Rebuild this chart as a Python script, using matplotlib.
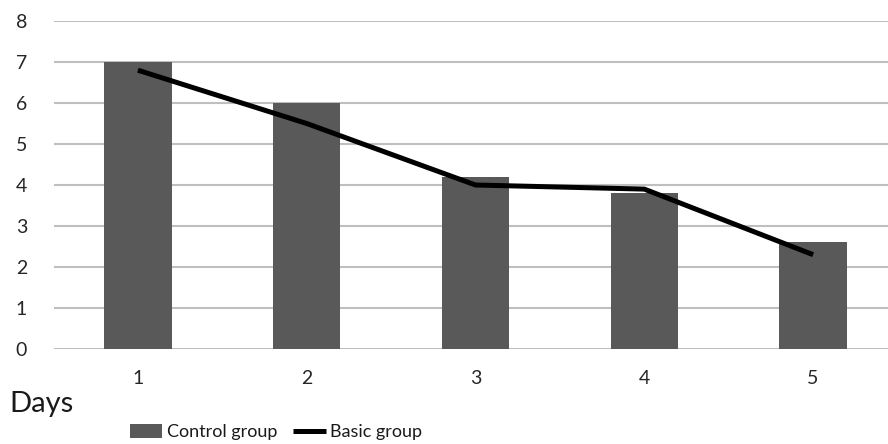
import matplotlib.pyplot as plt
import numpy as np

days = [1, 2, 3, 4, 5]
control_group = [7.0, 6.0, 4.2, 3.8, 2.6]
basic_group = [6.8, 5.5, 4.0, 3.9, 2.3]
y_ticks = [0, 1, 2, 3, 4, 5, 6, 7, 8]

plt.rcParams["font.family"] = ["Lato", "DejaVu Sans"]

fig = plt.figure(figsize=(8.88, 4.44), dpi=100)
ax = fig.add_axes([53.5 / 888, 1 - 349 / 444, (897.5 - 53.5) / 888, (349 - 21) / 444])

x = np.arange(len(days))
bars = ax.bar(x, control_group, width=0.4, color="#595959", label="Control group", zorder=2)
line, = ax.plot(x, basic_group, color="black", linewidth=3.6, label="Basic group", zorder=3,
                solid_capstyle="butt")

ax.set_xlim(-0.5, 4.5)
ax.set_ylim(0, 8)
ax.set_yticks(y_ticks)
ax.set_xticks(x)
ax.set_xticklabels([str(d) for d in days])
ax.yaxis.grid(True, color="#bfbfbf", linewidth=1.5, zorder=0)
ax.set_axisbelow(True)
for s in ax.spines.values():
    s.set_visible(False)
ax.tick_params(axis="both", length=0, labelsize=14, colors="#262626")
ax.tick_params(axis="y", pad=19)
ax.tick_params(axis="x", pad=15)

fig.text(9 / 888, 1 - 404 / 444, "Days", fontsize=21, va="center", ha="left", color="#1a1a1a")

fig.legend([bars, line], ["Control group", "Basic group"],
           loc="center", bbox_to_anchor=(276 / 888, 1 - 432 / 444), ncol=2, frameon=False,
           fontsize=13, handlelength=1.8, handleheight=0.8, columnspacing=0.9,
           handletextpad=0.25, borderpad=0, labelcolor="#1a1a1a")

fig.savefig("out.png", dpi=100)
